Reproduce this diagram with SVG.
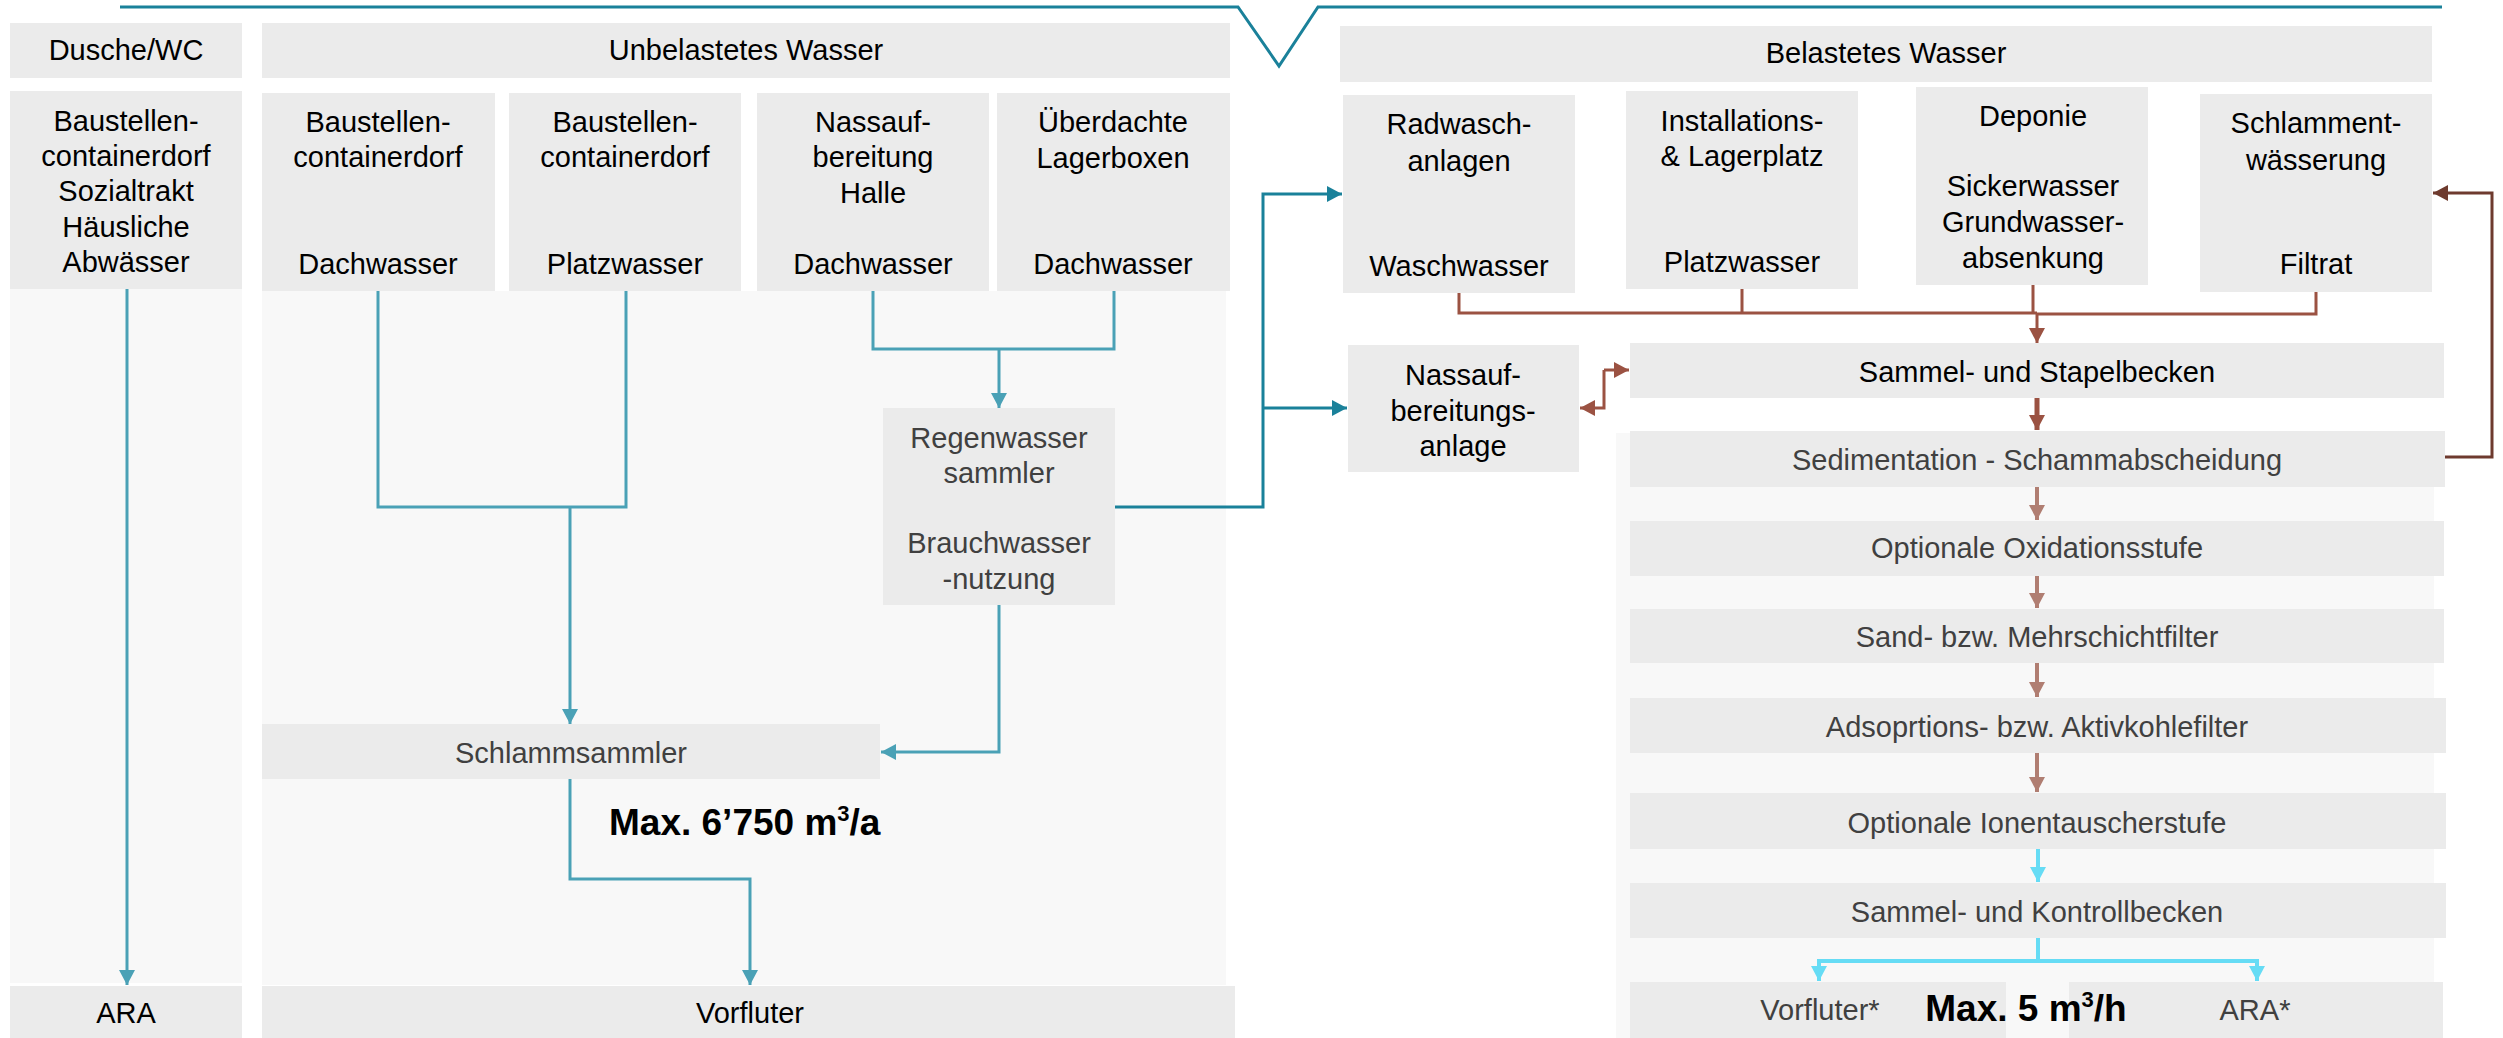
<svg xmlns="http://www.w3.org/2000/svg" width="2503" height="1038" viewBox="0 0 2503 1038">
<style>
text{font-family:"Liberation Sans",Arial,sans-serif;font-size:29px;text-anchor:middle;fill:#000}
.g{fill:#404040}
.b{font-weight:bold;font-size:37px}
.box{fill:#ebebeb}
.panel{fill:#f8f8f8}
.c{fill:none;stroke-linejoin:miter}
.td{stroke:#1a819a;stroke-width:3}
.tl{stroke:#4aa1b6;stroke-width:3}
.br{stroke:#9b5242;stroke-width:3}
.bd{stroke:#6e3a2e;stroke-width:3}
.bl{stroke:#b07e72;stroke-width:4}
.cy{stroke:#66dcf5;stroke-width:4}
</style>
<defs>
<marker id="aTD" markerUnits="userSpaceOnUse" markerWidth="16" markerHeight="18" refX="15" refY="8" orient="auto"><path d="M0,0 L15,8 L0,16 Z" fill="#1a819a"/></marker>
<marker id="aTL" markerUnits="userSpaceOnUse" markerWidth="16" markerHeight="18" refX="15" refY="8" orient="auto"><path d="M0,0 L15,8 L0,16 Z" fill="#4aa1b6"/></marker>
<marker id="aBR" markerUnits="userSpaceOnUse" markerWidth="16" markerHeight="18" refX="15" refY="8" orient="auto"><path d="M0,0 L15,8 L0,16 Z" fill="#9b5242"/></marker>
<marker id="aBD" markerUnits="userSpaceOnUse" markerWidth="16" markerHeight="18" refX="15" refY="8" orient="auto"><path d="M0,0 L15,8 L0,16 Z" fill="#6e3a2e"/></marker>
<marker id="aBL" markerUnits="userSpaceOnUse" markerWidth="16" markerHeight="18" refX="15" refY="8" orient="auto"><path d="M0,0 L15,8 L0,16 Z" fill="#b07e72"/></marker>
<marker id="aCY" markerUnits="userSpaceOnUse" markerWidth="16" markerHeight="18" refX="15" refY="8" orient="auto"><path d="M0,0 L15,8 L0,16 Z" fill="#66dcf5"/></marker>
</defs>

<g id="panels">
<rect class="panel" x="10" y="289" width="232" height="694"/>
<rect class="panel" x="262" y="291" width="964" height="694"/>
<rect class="panel" x="1616" y="433" width="818" height="605"/>
</g>

<g id="header-line">
<path class="c td" d="M120,7 H1238 L1279,66 L1318,7 H2442"/>
</g>

<g id="dusche-wc"><rect class="box" x="10" y="23" width="232" height="55"/><text x="126" y="60">Dusche/WC</text></g>
<g id="unbelastet"><rect class="box" x="262" y="23" width="968" height="55"/><text x="746" y="60">Unbelastetes Wasser</text></g>
<g id="belastet"><rect class="box" x="1340" y="26" width="1092" height="56"/><text x="1886" y="63">Belastetes Wasser</text></g>

<g id="sozialtrakt"><rect class="box" x="10" y="91" width="232" height="198"/>
<text x="126" y="131">Baustellen-</text><text x="126" y="166">containerdorf</text><text x="126" y="201">Sozialtrakt</text><text x="126" y="237">Häusliche</text><text x="126" y="272">Abwässer</text></g>
<g id="bcd-dach"><rect class="box" x="262" y="93" width="233" height="198"/>
<text x="378" y="132">Baustellen-</text><text x="378" y="167">containerdorf</text><text x="378" y="274">Dachwasser</text></g>
<g id="bcd-platz"><rect class="box" x="509" y="93" width="232" height="198"/>
<text x="625" y="132">Baustellen-</text><text x="625" y="167">containerdorf</text><text x="625" y="274">Platzwasser</text></g>
<g id="nass-halle"><rect class="box" x="757" y="93" width="232" height="198"/>
<text x="873" y="132">Nassauf-</text><text x="873" y="167">bereitung</text><text x="873" y="203">Halle</text><text x="873" y="274">Dachwasser</text></g>
<g id="lagerboxen"><rect class="box" x="997" y="93" width="233" height="198"/>
<text x="1113" y="132">Überdachte</text><text x="1113" y="168">Lagerboxen</text><text x="1113" y="274">Dachwasser</text></g>

<g id="regenwasser"><rect class="box" x="883" y="408" width="232" height="197"/>
<text class="g" x="999" y="448">Regenwasser</text><text class="g" x="999" y="483">sammler</text><text class="g" x="999" y="553">Brauchwasser</text><text class="g" x="999" y="589">-nutzung</text></g>
<g id="schlammsammler"><rect class="box" x="262" y="724" width="618" height="55"/><text class="g" x="571" y="763">Schlammsammler</text></g>
<g id="ara-left"><rect class="box" x="10" y="986" width="232" height="52"/><text x="126" y="1023">ARA</text></g>
<g id="vorfluter-left"><rect class="box" x="262" y="986" width="973" height="52"/><text x="750" y="1023">Vorfluter</text></g>
<text class="b" x="609" y="835" style="text-anchor:start">Max. 6’750 m<tspan font-size="22" dy="-14">3</tspan><tspan dy="14">/a</tspan></text>

<g id="radwasch"><rect class="box" x="1343" y="95" width="232" height="198"/>
<text x="1459" y="134">Radwasch-</text><text x="1459" y="171">anlagen</text><text x="1459" y="276">Waschwasser</text></g>
<g id="installations"><rect class="box" x="1626" y="91" width="232" height="198"/>
<text x="1742" y="131">Installations-</text><text x="1742" y="166">&amp; Lagerplatz</text><text x="1742" y="272">Platzwasser</text></g>
<g id="deponie"><rect class="box" x="1916" y="87" width="232" height="198"/>
<text x="2033" y="126">Deponie</text><text x="2033" y="196">Sickerwasser</text><text x="2033" y="232">Grundwasser-</text><text x="2033" y="268">absenkung</text></g>
<g id="schlammentwaesserung"><rect class="box" x="2200" y="94" width="232" height="198"/>
<text x="2316" y="133">Schlamment-</text><text x="2316" y="170">wässerung</text><text x="2316" y="274">Filtrat</text></g>

<g id="nassaufbereitungsanlage"><rect class="box" x="1348" y="345" width="231" height="127"/>
<text x="1463" y="385">Nassauf-</text><text x="1463" y="421">bereitungs-</text><text x="1463" y="456">anlage</text></g>
<g id="stapelbecken"><rect class="box" x="1630" y="343" width="814" height="55"/><text x="2037" y="382">Sammel- und Stapelbecken</text></g>
<g id="sedimentation"><rect class="box" x="1630" y="431" width="815" height="56"/><text class="g" x="2037" y="470">Sedimentation - Schammabscheidung</text></g>
<g id="oxidation"><rect class="box" x="1630" y="521" width="814" height="55"/><text class="g" x="2037" y="558">Optionale Oxidationsstufe</text></g>
<g id="sandfilter"><rect class="box" x="1630" y="609" width="814" height="54"/><text class="g" x="2037" y="647">Sand- bzw. Mehrschichtfilter</text></g>
<g id="aktivkohle"><rect class="box" x="1630" y="698" width="816" height="55"/><text class="g" x="2037" y="737">Adsoprtions- bzw. Aktivkohlefilter</text></g>
<g id="ionentauscher"><rect class="box" x="1630" y="793" width="816" height="56"/><text class="g" x="2037" y="833">Optionale Ionentauscherstufe</text></g>
<g id="kontrollbecken"><rect class="box" x="1630" y="883" width="816" height="55"/><text class="g" x="2037" y="922">Sammel- und Kontrollbecken</text></g>
<g id="vorfluter-right"><rect class="box" x="1630" y="982" width="376" height="56"/><text class="g" x="1820" y="1020">Vorfluter*</text></g>
<g id="ara-right"><rect class="box" x="2069" y="982" width="374" height="56"/><text class="g" x="2255" y="1020">ARA*</text></g>
<text class="b" x="2026" y="1021">Max. 5 m<tspan font-size="22" dy="-14">3</tspan><tspan dy="14">/h</tspan></text>

<g id="connectors">
<path class="c tl" d="M127,289 V985" marker-end="url(#aTL)"/>
<path class="c tl" d="M378,291 V507 H626 V291"/>
<path class="c tl" d="M570,507 V724" marker-end="url(#aTL)"/>
<path class="c tl" d="M873,291 V349 H1114 V291"/>
<path class="c tl" d="M999,349 V408" marker-end="url(#aTL)"/>
<path class="c tl" d="M999,605 V752 H881" marker-end="url(#aTL)"/>
<path class="c tl" d="M570,779 V879 H750 V985" marker-end="url(#aTL)"/>
<path class="c td" d="M1115,507 H1263 V194 H1342" marker-end="url(#aTD)"/>
<path class="c td" d="M1263,408 H1347" marker-end="url(#aTD)"/>
<path class="c br" d="M1459,293 V313 H2037 M1742,289 V314 M2033,285 V314 M2316,292 V314 H2037"/>
<path class="c br" d="M2037,313 V343" marker-end="url(#aBR)"/>
<path class="c br" d="M2037,398 V430" marker-end="url(#aBR)" style="stroke-width:5"/>
<path class="c br" d="M1604,370 H1629" marker-end="url(#aBR)"/>
<path class="c br" d="M1604,370 V408 H1580" marker-end="url(#aBR)"/>
<path class="c bd" d="M2445,457 H2492 V193 H2433" marker-end="url(#aBD)"/>
<path class="c bl" d="M2037,487 V520" marker-end="url(#aBL)"/>
<path class="c bl" d="M2037,576 V608" marker-end="url(#aBL)"/>
<path class="c bl" d="M2037,663 V697" marker-end="url(#aBL)"/>
<path class="c bl" d="M2037,753 V792" marker-end="url(#aBL)"/>
<path class="c cy" d="M2038,849 V882" marker-end="url(#aCY)"/>
<path class="c cy" d="M2038,938 V961"/>
<path class="c cy" d="M2038,961 H1819 V981" marker-end="url(#aCY)"/>
<path class="c cy" d="M2038,961 H2257 V981" marker-end="url(#aCY)"/>
</g>
</svg>
